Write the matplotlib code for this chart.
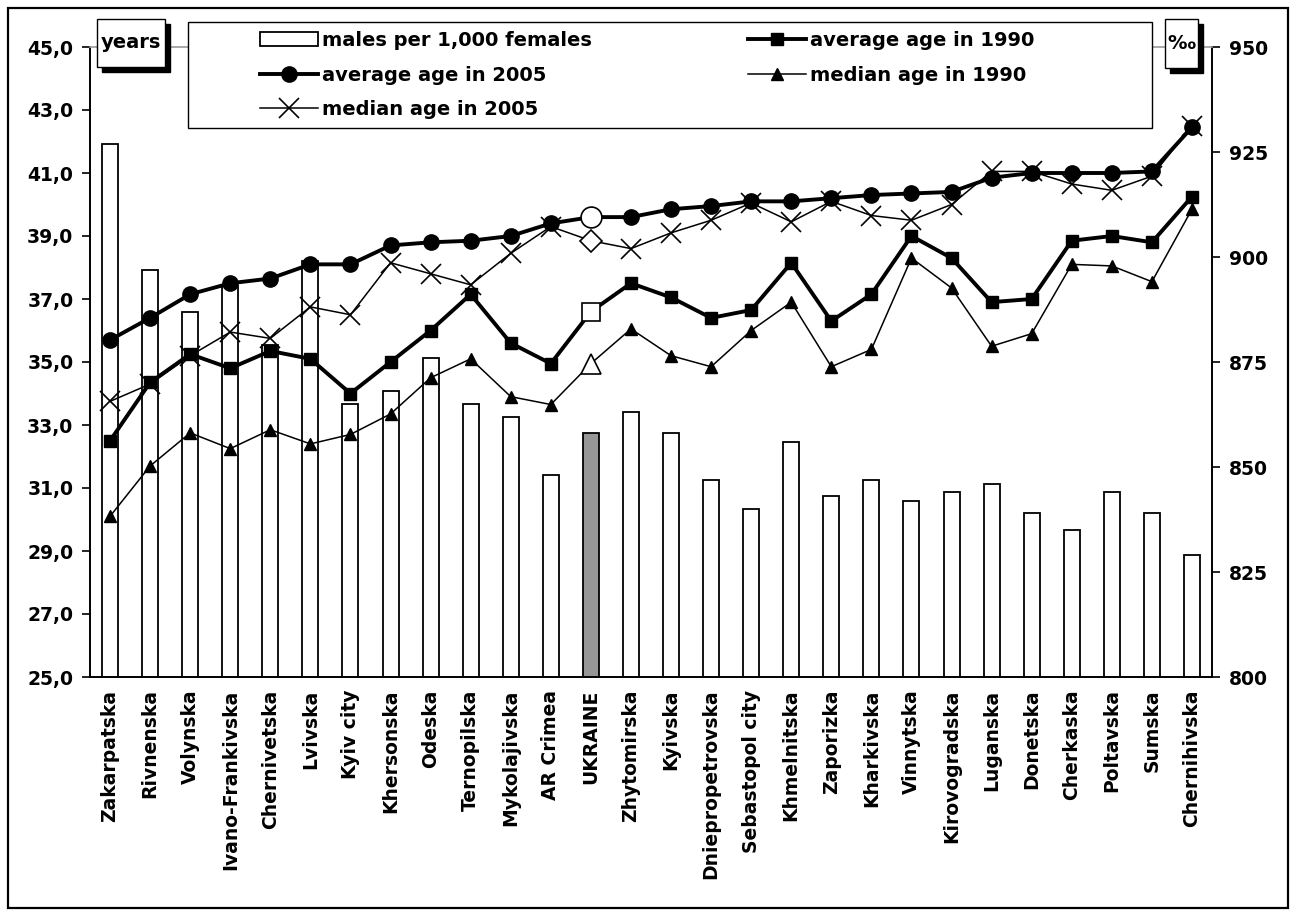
import matplotlib.pyplot as plt
import numpy as np
from matplotlib.patches import Rectangle
from matplotlib.lines import Line2D
from matplotlib.ticker import FixedLocator, FuncFormatter

plt.rcParams['font.family'] = ['DejaVu Sans']
plt.rcParams['font.weight'] = 'bold'

regions = ["Zakarpatska", "Rivnenska", "Volynska", "Ivano-Frankivska", "Chernivetska",
           "Lvivska", "Kyiv city", "Khersonska", "Odeska", "Ternopilska", "Mykolajivska",
           "AR Crimea", "UKRAINE", "Zhytomirska", "Kyivska", "Dniepropetrovska",
           "Sebastopol city", "Khmelnitska", "Zaporizka", "Kharkivska", "Vinnytska",
           "Kirovogradska", "Luganska", "Donetska", "Cherkaska", "Poltavska", "Sumska",
           "Chernihivska"]

# males per 1,000 females (right axis)
males = [927, 897, 887, 893, 879, 899, 865, 868, 876, 865, 862, 848, 858, 863,
         858, 847, 840, 856, 843, 847, 842, 844, 846, 839, 835, 844, 839, 829]

# ages, years (left axis)
avg_2005 = [35.7, 36.4, 37.15, 37.5, 37.65, 38.1, 38.1, 38.7, 38.8, 38.85, 39.0, 39.4,
            39.6, 39.6, 39.85, 39.95, 40.1, 40.1, 40.2, 40.3, 40.35, 40.4, 40.85, 41.0,
            41.0, 41.0, 41.05, 42.45]
avg_1990 = [32.5, 34.35, 35.25, 34.8, 35.35, 35.1, 34.0, 35.0, 36.0, 37.15, 35.6, 34.95,
            36.6, 37.5, 37.05, 36.4, 36.65, 38.15, 36.3, 37.15, 39.0, 38.3, 36.9, 37.0,
            38.85, 39.0, 38.8, 40.25]
med_1990 = [30.1, 31.7, 32.75, 32.25, 32.85, 32.4, 32.7, 33.35, 34.5, 35.1, 33.9, 33.65,
            34.95, 36.05, 35.2, 34.85, 36.0, 36.9, 34.85, 35.4, 38.3, 37.35, 35.5, 35.9,
            38.1, 38.05, 37.55, 39.85]
med_2005 = [33.75, 34.3, 35.2, 35.95, 35.75, 36.75, 36.5, 38.15, 37.8, 37.45, 38.45, 39.3,
            38.85, 38.6, 39.1, 39.5, 40.05, 39.45, 40.1, 39.65, 39.5, 40.0, 41.05, 41.05,
            40.65, 40.45, 40.9, 42.5]

ukr = regions.index("UKRAINE")
x = np.arange(len(regions))
others = [i for i in range(len(regions)) if i != ukr]

W, H = 1298, 917
fig = plt.figure(figsize=(W / 100, H / 100), dpi=100)


def fx(px):
    return px / W


def fy(py):
    return 1 - py / H


# outer frame
fig.patches.append(Rectangle((fx(8), fy(908)), 1280 / W, 900 / H, transform=fig.transFigure,
                             fill=False, ec="black", lw=1.6, zorder=0))

ax = fig.add_axes([fx(90), fy(677), (1212 - 90) / W, (677 - 47) / H])
ax2 = ax.twinx()
ax.set_zorder(ax2.get_zorder() + 1)
ax.patch.set_visible(False)

# bars
bar_colors = ["white"] * len(regions)
bar_colors[ukr] = "#969696"
ax2.bar(x, males, width=0.4, color=bar_colors, edgecolor="black", linewidth=1.3)
ax2.set_ylim(800, 950)

# lines
ax.plot(x, med_1990, color="black", lw=1.1, marker="^", ms=9, markevery=others)
ax.plot(x, med_2005, color="black", lw=1.1, marker="x", ms=14, mew=1.2, markevery=others)
ax.plot(x, avg_1990, color="black", lw=2.8, marker="s", ms=8, markevery=others)
ax.plot(x, avg_2005, color="black", lw=2.8, marker="o", ms=11, markevery=others)

# UKRAINE with open markers
ax.plot(ukr, avg_2005[ukr], ls="none", marker="o", ms=15, mfc="white", mec="black", mew=1.2)
ax.plot(ukr, avg_1990[ukr], ls="none", marker="s", ms=13, mfc="white", mec="black", mew=1.2)
ax.plot(ukr, med_1990[ukr], ls="none", marker="^", ms=14, mfc="white", mec="black", mew=1.2)
ax.plot(ukr, med_2005[ukr], ls="none", marker="D", ms=11, mfc="white", mec="black", mew=1.2)

ax.set_xlim(-0.5, len(regions) - 0.5)
ax.set_ylim(25, 45)
ax.set_yticks(np.arange(25, 45.1, 2))
ax.yaxis.set_major_formatter(FuncFormatter(lambda v, p: f"{v:.1f}".replace(".", ",")))
ax2.set_yticks(np.arange(800, 951, 25))

ax.xaxis.set_major_locator(FixedLocator(np.arange(-0.5, len(regions), 1)))
ax.xaxis.set_minor_locator(FixedLocator(x))
ax.set_xticklabels([""] * (len(regions) + 1))
ax.set_xticklabels(regions, minor=True, rotation=90, fontsize=13.5, fontweight="bold")
ax.tick_params(axis="x", which="major", direction="inout", length=11, width=1.2)
ax.tick_params(axis="x", which="minor", length=0, pad=9)
ax.tick_params(axis="y", direction="out", length=6, width=1.2, labelsize=13.5, pad=6)
ax2.tick_params(axis="y", direction="out", length=6, width=1.2, labelsize=13.5, pad=6)
ax2.set_xticks([])

for s in ["left", "bottom"]:
    ax.spines[s].set_linewidth(1.4)
ax.spines["right"].set_visible(False)
ax.spines["top"].set_color("#999999")
ax.spines["top"].set_linewidth(1.2)
for s in ["left", "bottom", "top"]:
    ax2.spines[s].set_visible(False)
ax2.spines["right"].set_linewidth(1.4)

# unit boxes with shadow
for (x0, y0, x1, y1, txt) in [(97, 19, 165, 67, "years"), (1165, 19, 1198, 68, "\u2030")]:
    fig.patches.append(Rectangle((fx(x0 + 5), fy(y1 + 5)), (x1 - x0) / W, (y1 - y0) / H,
                                 transform=fig.transFigure, fc="black", ec="black", zorder=3))
    fig.patches.append(Rectangle((fx(x0), fy(y1)), (x1 - x0) / W, (y1 - y0) / H,
                                 transform=fig.transFigure, fc="white", ec="black", lw=1, zorder=4))
    fig.text(fx((x0 + x1) / 2), fy((y0 + y1) / 2), txt, ha="center", va="center",
             fontsize=14, fontweight="bold", zorder=5)

# legend box
fig.patches.append(Rectangle((fx(188), fy(128)), (1152 - 188) / W, (128 - 22) / H,
                             transform=fig.transFigure, fc="white", ec="black", lw=1, zorder=4))

handles = [
    Rectangle((0, 0), 1, 1, fc="white", ec="black", lw=1.3),
    Line2D([], [], color="black", lw=2.8, marker="o", ms=11),
    Line2D([], [], color="black", lw=1.1, marker="x", ms=14, mew=1.2),
    Line2D([], [], color="black", lw=2.8, marker="s", ms=8),
    Line2D([], [], color="black", lw=1.1, marker="^", ms=9),
]
labels = ["males per 1,000 females", "average age in 2005", "median age in 2005",
          "average age in 1990", "median age in 1990"]
leg = fig.legend(handles, labels, ncol=2, loc="upper left",
                 bbox_to_anchor=(fx(260), fy(31)), frameon=False, fontsize=14,
                 handlelength=3.0, handletextpad=0.2, columnspacing=8.0,
                 labelspacing=0.8, borderpad=0, borderaxespad=0)
leg.set_zorder(6)
for t in leg.get_texts():
    t.set_fontweight("bold")

fig.savefig("out.png", dpi=100)
